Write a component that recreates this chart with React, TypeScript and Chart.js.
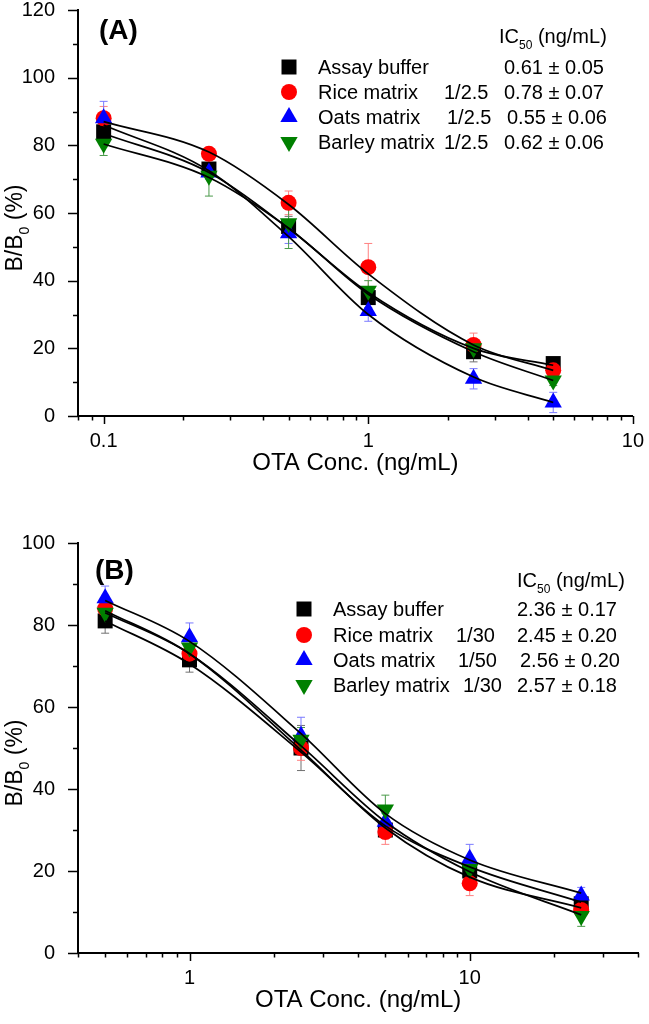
import React, { useEffect, useRef } from 'react';
import { Chart, registerables } from 'chart.js';

Chart.register(...registerables);

const FONT = '"Liberation Sans", Arial, Helvetica, sans-serif';

// ---------- Panel A data ----------
const concA = [0.1, 0.25, 0.5, 1, 2.5, 5];
const bufferA = [84, 73, 56, 35, 19, 15.5];
const riceA = [88, 77.5, 63, 44, 21, 13.5];
const oatsA = [88, 72, 54, 31, 11, 4];
const barleyA = [80.5, 71, 57, 37, 20, 10.5];
const bufferErrA = [1.5, 1.5, 3, 3, 3, 1.5];
const riceErrA = [3.5, 1.5, 3.5, 7, 3.5, 2];
const oatsErrA = [5, 2, 3, 3, 3, 3];
const barleyErrA = [3.5, 6, 7.5, 3, 2, 1.5];
// fitted curves read at the concentrations
const bufferFitA = [83.5, 72, 55.5, 36.5, 20, 15];
const riceFitA = [87, 78, 62.5, 42, 21, 13.5];
const oatsFitA = [86, 72.5, 53, 30, 11.5, 4];
const barleyFitA = [80.4, 70.5, 55.5, 36, 19, 10.5];

// ---------- Panel B data ----------
const concB = [0.5, 1, 2.5, 5, 10, 25];
const bufferB = [81, 71.5, 50, 30, 20, 12];
const riceB = [84, 73, 50, 29.5, 17, 10.5];
const oatsB = [86.5, 77, 53, 32, 23, 14];
const barleyB = [83, 74.5, 52, 35, 20.5, 9];
const bufferErrB = [3, 3, 5.5, 2, 2, 1.5];
const riceErrB = [2.5, 2, 3, 3, 3, 1.5];
const oatsErrB = [3, 3.5, 4.5, 2, 3.5, 2];
const barleyErrB = [2, 2, 3, 3.5, 2, 2.5];
const bufferFitB = [81, 70.5, 49, 31, 21, 12.4];
const riceFitB = [83.5, 73, 49.5, 30.5, 18.5, 11];
const oatsFitB = [86, 76, 53.5, 34, 22.7, 14.6];
const barleyFitB = [83, 73, 50.5, 32, 19.8, 9.3];

// ---------- Legend text ----------
const seriesNames = ['Assay buffer', 'Rice matrix', 'Oats matrix', 'Barley matrix'];
const dilutionsA = ['', '1/2.5', '1/2.5', '1/2.5'];
const ic50A = ['0.61 ± 0.05', '0.78 ± 0.07', '0.55 ± 0.06', '0.62 ± 0.06'];
const dilutionsB = ['', '1/30', '1/50', '1/30'];
const ic50B = ['2.36 ± 0.17', '2.45 ± 0.20', '2.56 ± 0.20', '2.57 ± 0.18'];

// ---------- Axis ticks ----------
const xTicksA = [0.1, 1, 10];
const xMinorA = [0.08, 0.09, 0.2, 0.3, 0.4, 0.5, 0.6, 0.7, 0.8, 0.9, 2, 3, 4, 5, 6, 7, 8, 9];
const yTicksA = [0, 20, 40, 60, 80, 100, 120];
const yMinorA = [10, 30, 50, 70, 90, 110];
const xTicksB = [1, 10];
const xMinorB = [0.4, 0.5, 0.6, 0.7, 0.8, 0.9, 2, 3, 4, 5, 6, 7, 8, 9, 20, 30, 40];
const yTicksB = [0, 20, 40, 60, 80, 100];
const yMinorB = [10, 30, 50, 70, 90];

const COLORS = ['#000000', '#ff0000', '#0000ff', '#008000'];
const ERR_COLORS = ['#707070', '#ff8080', '#7a7aff', '#4a9a4a'];
const RADII = [10.6, 8, 10, 10];

interface Panel {
  top: number;
  height: number;
  padRight: number;
  xAxisH: number;
  xMin: number;
  xMax: number;
  yMax: number;
  conc: number[];
  values: number[][];
  errors: number[][];
  fits: number[][];
  xTicks: number[];
  xMinor: number[];
  yTicks: number[];
  yMinor: number[];
  label: string;
  labelX: number;
  labelY: number;
  markerX: number;
  rowsY: number[];
  textX: number;
  dilX: number[];
  valX: number[];
  headerX: number;
  headerY: number;
  dilutions: string[];
  ic50: string[];
}

const panelA: Panel = {
  top: -20, height: 520, padRight: 15, xAxisH: 84,
  xMin: 0.08, xMax: 10, yMax: 120,
  conc: concA,
  values: [bufferA, riceA, oatsA, barleyA],
  errors: [bufferErrA, riceErrA, oatsErrA, barleyErrA],
  fits: [bufferFitA, riceFitA, oatsFitA, barleyFitA],
  xTicks: xTicksA, xMinor: xMinorA, yTicks: yTicksA, yMinor: yMinorA,
  label: '(A)', labelX: 99, labelY: 39,
  markerX: 289, rowsY: [67, 92, 117, 142], textX: 318,
  dilX: [0, 444, 447, 444], valX: [504, 504, 507, 504],
  headerX: 499, headerY: 43,
  dilutions: dilutionsA, ic50: ic50A,
};

const panelB: Panel = {
  top: 513, height: 511, padRight: 7, xAxisH: 71,
  xMin: 0.4, xMax: 40, yMax: 100,
  conc: concB,
  values: [bufferB, riceB, oatsB, barleyB],
  errors: [bufferErrB, riceErrB, oatsErrB, barleyErrB],
  fits: [bufferFitB, riceFitB, oatsFitB, barleyFitB],
  xTicks: xTicksB, xMinor: xMinorB, yTicks: yTicksB, yMinor: yMinorB,
  label: '(B)', labelX: 95, labelY: 579,
  markerX: 304, rowsY: [609, 635, 660, 685], textX: 333,
  dilX: [0, 456, 458, 463], valX: [517, 517, 520, 517],
  headerX: 517, headerY: 587,
  dilutions: dilutionsB, ic50: ic50B,
};

type Seg = { t: string; sub?: boolean };

function richWidth(ctx: CanvasRenderingContext2D, segs: Seg[], size: number) {
  let w = 0;
  for (const s of segs) {
    ctx.font = `${s.sub ? Math.round(size * 0.62) : size}px ${FONT}`;
    w += ctx.measureText(s.t).width;
  }
  return w;
}

function drawRich(ctx: CanvasRenderingContext2D, segs: Seg[], x: number, y: number, size: number) {
  let cx = x;
  ctx.textAlign = 'left';
  ctx.textBaseline = 'alphabetic';
  for (const s of segs) {
    const fs = s.sub ? Math.round(size * 0.62) : size;
    ctx.font = `${fs}px ${FONT}`;
    ctx.fillText(s.t, cx, y + (s.sub ? size * 0.3 : 0));
    cx += ctx.measureText(s.t).width;
  }
}

function drawMarker(ctx: CanvasRenderingContext2D, k: number, x: number, y: number) {
  ctx.fillStyle = COLORS[k];
  ctx.beginPath();
  if (k === 0) {
    const s = RADII[0] * Math.SQRT1_2;
    ctx.rect(x - s, y - s, 2 * s, 2 * s);
  } else if (k === 1) {
    ctx.arc(x, y, RADII[1], 0, Math.PI * 2);
  } else {
    const r = RADII[k];
    const d = k === 2 ? 1 : -1;
    ctx.moveTo(x, y - d * r);
    ctx.lineTo(x + r * 0.866, y + (d * r) / 2);
    ctx.lineTo(x - r * 0.866, y + (d * r) / 2);
    ctx.closePath();
  }
  ctx.fill();
}

function makeOverlay(p: Panel) {
  return {
    id: 'overlay',
    beforeDatasetsDraw(chart: any) {
      const ctx: CanvasRenderingContext2D = chart.ctx;
      const xs = chart.scales.x;
      const ys = chart.scales.y;
      ctx.save();
      ctx.lineWidth = 1;
      p.values.forEach((vals, k) => {
        ctx.strokeStyle = ERR_COLORS[k];
        vals.forEach((v, i) => {
          const e = p.errors[k][i];
          const px = xs.getPixelForValue(p.conc[i]);
          const y1 = ys.getPixelForValue(v + e);
          const y2 = ys.getPixelForValue(v - e);
          ctx.beginPath();
          ctx.moveTo(px, y1);
          ctx.lineTo(px, y2);
          ctx.moveTo(px - 4, y1);
          ctx.lineTo(px + 4, y1);
          ctx.moveTo(px - 4, y2);
          ctx.lineTo(px + 4, y2);
          ctx.stroke();
        });
      });
      ctx.restore();
    },
    afterDraw(chart: any) {
      const ctx: CanvasRenderingContext2D = chart.ctx;
      const xs = chart.scales.x;
      const ys = chart.scales.y;
      const area = chart.chartArea;
      ctx.save();
      // tick marks
      ctx.strokeStyle = '#000';
      ctx.lineWidth = 1.5;
      ctx.beginPath();
      for (const v of p.xTicks) {
        const px = Math.round(xs.getPixelForValue(v)) + 0.5;
        ctx.moveTo(px, area.bottom);
        ctx.lineTo(px, area.bottom + 8);
      }
      for (const v of p.xMinor) {
        const px = Math.round(xs.getPixelForValue(v)) + 0.5;
        ctx.moveTo(px, area.bottom);
        ctx.lineTo(px, area.bottom + 4.5);
      }
      for (const v of p.yTicks) {
        const py = Math.round(ys.getPixelForValue(v)) + 0.5;
        ctx.moveTo(area.left - 10, py);
        ctx.lineTo(area.left, py);
      }
      for (const v of p.yMinor) {
        const py = Math.round(ys.getPixelForValue(v)) + 0.5;
        ctx.moveTo(area.left - 5, py);
        ctx.lineTo(area.left, py);
      }
      ctx.stroke();

      ctx.fillStyle = '#000';
      // x-axis title
      const xt: Seg[] = [{ t: 'OTA Conc. (ng/mL)' }];
      const xw = richWidth(ctx, xt, 24);
      drawRich(ctx, xt, (area.left + area.right) / 2 - xw / 2, area.bottom + 54, 24);
      // y-axis title
      const yt: Seg[] = [{ t: 'B/B' }, { t: '0', sub: true }, { t: ' (%)' }];
      const yw = richWidth(ctx, yt, 23);
      ctx.save();
      ctx.translate(22, (area.top + area.bottom) / 2 + 15);
      ctx.rotate(-Math.PI / 2);
      ctx.fillStyle = '#000';
      drawRich(ctx, yt, -yw / 2, 0, 23);
      ctx.restore();

      // translate page coordinates to canvas coordinates
      ctx.translate(0, -p.top);
      // panel label
      ctx.font = `bold 28px ${FONT}`;
      ctx.textAlign = 'left';
      ctx.textBaseline = 'alphabetic';
      ctx.fillStyle = '#000';
      ctx.fillText(p.label, p.labelX, p.labelY);
      // legend header
      drawRich(ctx, [{ t: 'IC' }, { t: '50', sub: true }, { t: ' (ng/mL)' }], p.headerX, p.headerY, 20);
      // legend rows
      seriesNames.forEach((name, k) => {
        const ry = p.rowsY[k];
        drawMarker(ctx, k, p.markerX, ry);
        ctx.fillStyle = '#000';
        ctx.font = `20px ${FONT}`;
        ctx.textAlign = 'left';
        ctx.textBaseline = 'alphabetic';
        ctx.fillText(name, p.textX, ry + 7);
        if (p.dilutions[k]) ctx.fillText(p.dilutions[k], p.dilX[k], ry + 7);
        ctx.fillText(p.ic50[k], p.valX[k], ry + 7);
      });
      ctx.restore();
    },
  };
}

function buildConfig(p: Panel): any {
  const datasets: any[] = [];
  p.fits.forEach((f) => {
    datasets.push({
      type: 'line',
      data: p.conc.map((x, i) => ({ x, y: f[i] })),
      borderColor: '#000',
      borderWidth: 1.7,
      pointRadius: 0,
      cubicInterpolationMode: 'monotone',
      fill: false,
      order: 0,
      clip: false,
    });
  });
  p.values.forEach((vals, k) => {
    datasets.push({
      type: 'line',
      showLine: false,
      data: p.conc.map((x, i) => ({ x, y: vals[i] })),
      pointStyle: k === 0 ? 'rect' : k === 1 ? 'circle' : 'triangle',
      pointRotation: k === 3 ? 180 : 0,
      pointRadius: RADII[k],
      pointBackgroundColor: COLORS[k],
      pointBorderColor: COLORS[k],
      pointBorderWidth: 0,
      order: 4 - k,
      clip: false,
    });
  });
  const tickFont = { family: FONT, size: 20 };
  return {
    type: 'line',
    data: { datasets },
    options: {
      animation: false,
      responsive: false,
      maintainAspectRatio: false,
      events: [],
      layout: { padding: { top: 30, right: p.padRight, left: 0, bottom: 0 } },
      plugins: { legend: { display: false }, tooltip: { enabled: false }, title: { display: false } },
      scales: {
        x: {
          type: 'logarithmic',
          min: p.xMin,
          max: p.xMax,
          grid: { display: false },
          border: { display: true, color: '#000', width: 2 },
          ticks: {
            color: '#000',
            font: tickFont,
            padding: 5,
            autoSkip: false,
            maxRotation: 0,
            callback: (v: any) => String(v),
          },
          afterBuildTicks: (s: any) => {
            s.ticks = p.xTicks.map((v) => ({ value: v }));
          },
          afterFit: (s: any) => {
            s.height = p.xAxisH;
          },
        },
        y: {
          type: 'linear',
          min: 0,
          max: p.yMax,
          grid: { display: false },
          border: { display: true, color: '#000', width: 2 },
          ticks: { color: '#000', font: tickFont, padding: 15 },
          afterBuildTicks: (s: any) => {
            s.ticks = p.yTicks.map((v) => ({ value: v }));
          },
          afterFit: (s: any) => {
            s.width = 78;
          },
        },
      },
    },
    plugins: [makeOverlay(p)],
  };
}

function PanelChart({ p }: { p: Panel }) {
  const ref = useRef<HTMLCanvasElement | null>(null);
  useEffect(() => {
    if (!ref.current) return;
    const chart = new Chart(ref.current, buildConfig(p));
    return () => chart.destroy();
  }, [p]);
  return (
    <canvas
      ref={ref}
      width={649}
      height={p.height}
      style={{ position: 'absolute', left: 0, top: p.top, width: 649, height: p.height }}
    />
  );
}

export default function App() {
  return (
    <div
      style={{
        position: 'absolute',
        left: 0,
        top: 0,
        width: 649,
        height: 1024,
        overflow: 'hidden',
        background: '#fff',
      }}
    >
      <PanelChart p={panelA} />
      <PanelChart p={panelB} />
    </div>
  );
}
